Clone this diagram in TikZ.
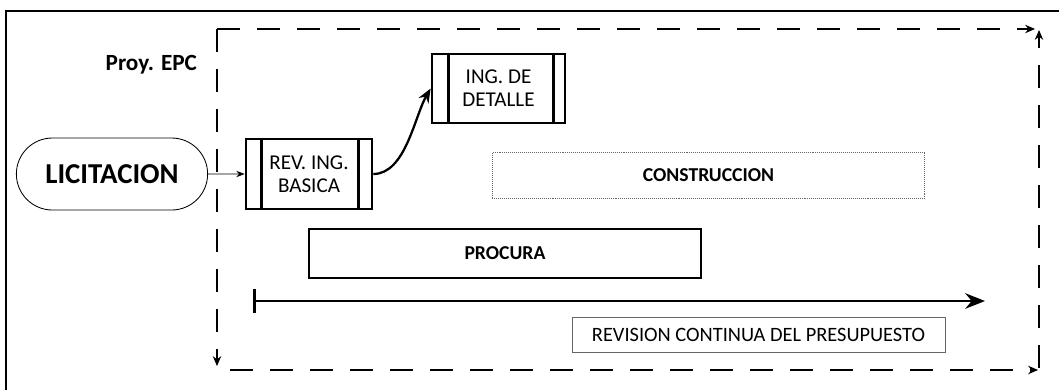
\documentclass[tikz,border=0pt]{standalone}
\usepackage{fontspec}
\setmainfont{Carlito}
\usepackage{tikz}
\usetikzlibrary{arrows.meta, positioning, shapes.misc, calc}

\begin{document}
\begin{tikzpicture}[
    x=0.025cm, y=-0.025cm,
    box/.style={draw, thick, align=center, inner sep=0pt},
    process/.style={box, line width=1.8pt, minimum width=3.2cm, minimum height=1.74cm,
                font=\fontsize{15}{16.5}\selectfont},
    phase/.style={box, font=\bfseries\fontsize{14}{16}\selectfont},
    arrow/.style={-{Stealth[length=6pt]}, semithick},
    cycle/.style={-{Stealth[length=7pt, width=6pt]}, line width=0.8pt, dash pattern=on 0.58cm off 0.42cm},
]
\useasboundingbox (0,0) rectangle (1059,390);

% Outer frame (cut at the right and bottom)
\draw[line width=1.1pt] (1059,11) -- (6,11) -- (6,390);

% Dashed cycle of the EPC project
\coordinate (nw) at (217,29);
\coordinate (sw) at (217,366);
\coordinate (se) at (1038,370);
\coordinate (ne) at (1039,30);
\draw[cycle] (nw) -- (sw);
\draw[cycle] (230,370) -- (se);
\draw[cycle] ($(se)+(1,-2)$) -- (ne);
\draw[cycle] (nw) -- (1035,29);

\node[anchor=east, font=\bfseries\fontsize{16.5}{18}\selectfont] (epc) at (202,65) {Proy. EPC};

% Stages
\node[box, rounded rectangle, semithick, minimum width=4.78cm, minimum height=1.8cm,
      font=\bfseries\fontsize{20.5}{22}\selectfont] (lic) at (112,174) {LICITACION};
\node[process, minimum width=3.15cm, minimum height=1.75cm] (rev) at (309,174) {REV. ING.\\BASICA};
\node[process, minimum width=3.33cm, minimum height=1.72cm] (det) at (498.5,88.5) {ING. DE\\DETALLE};
\draw[line width=1.8pt] ($(rev.north west)+(17,0)$) -- ($(rev.south west)+(17,0)$);
\draw[line width=1.8pt] ($(rev.north east)+(-15,0)$) -- ($(rev.south east)+(-15,0)$);
\draw[line width=1.8pt] ($(det.north west)+(18,0)$) -- ($(det.south west)+(18,0)$);
\draw[line width=1.8pt] ($(det.north east)+(-13,0)$) -- ($(det.south east)+(-13,0)$);

\node[phase, draw=black!60, thin, densely dotted, minimum width=10.8cm, minimum height=1.15cm] (cons) at (708.5,175) {CONSTRUCCION};
\node[phase, line width=1.1pt, minimum width=9.8cm, minimum height=1.22cm] (proc) at (505,253.5) {PROCURA};

% Budget review line
\coordinate (tstart) at (253,301);
\coordinate (tend) at (985,301);
\draw[{Bar[width=17pt]}-{Stealth[length=14pt, width=11pt]}, line width=1.8pt] (tstart) -- (tend);
\node[box, draw=black!60, thin, minimum width=9.33cm, minimum height=0.875cm,
      font=\fontsize{14.5}{16}\selectfont] (revp) at (758.5,334.5) {REVISION CONTINUA DEL PRESUPUESTO};

% Arrows
\draw[arrow] (lic) -- (rev);
\draw[-{Stealth[length=10pt, width=8pt]}, line width=1.6pt] (rev.east) to[out=0, in=-120, looseness=0.8] (det.west);
\end{tikzpicture}
\end{document}
